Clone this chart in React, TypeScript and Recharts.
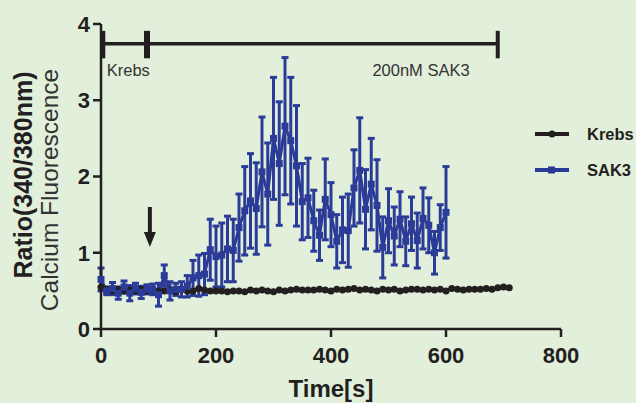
import React from 'react'
import {
  ComposedChart,
  Line,
  ErrorBar,
  XAxis,
  YAxis,
  ReferenceLine,
  ReferenceDot,
} from 'recharts'

const BLACK = '#231f20'
const BLUE = '#2b3c98'
const BG = '#e2efda'
const FONT = '"Liberation Sans", Arial, Helvetica, sans-serif'

// time points (s)
const times = [
  0, 10, 20, 30, 40, 50, 60, 70, 80, 90, 100, 110, 120, 130, 140, 150, 160, 170,
  180, 190, 200, 210, 220, 230, 240, 250, 260, 270, 280, 290, 300, 310, 320, 330,
  340, 350, 360, 370, 380, 390, 400, 410, 420, 430, 440, 450, 460, 470, 480, 490,
  500, 510, 520, 530, 540, 550, 560, 570, 580, 590, 600, 610, 620, 630, 640, 650,
  660, 670, 680, 690, 700, 710,
]

const krebs = [
  0.55, 0.52, 0.5, 0.52, 0.5, 0.51, 0.5, 0.52, 0.5, 0.51, 0.5, 0.5, 0.51, 0.49,
  0.52, 0.5, 0.5, 0.53, 0.51, 0.5, 0.5, 0.5, 0.49, 0.5, 0.5, 0.49, 0.51, 0.5,
  0.51, 0.5, 0.49, 0.51, 0.5, 0.51, 0.52, 0.51, 0.51, 0.51, 0.52, 0.51, 0.5, 0.52,
  0.51, 0.52, 0.53, 0.51, 0.52, 0.51, 0.5, 0.52, 0.51, 0.52, 0.5, 0.51, 0.52,
  0.52, 0.51, 0.52, 0.51, 0.52, 0.5, 0.53, 0.52, 0.51, 0.52, 0.52, 0.52, 0.53,
  0.52, 0.54, 0.55, 0.54,
]

// SAK3 mean and SEM, 0..600 s
const sak3 = [
  0.65, 0.5, 0.53, 0.47, 0.55, 0.47, 0.53, 0.48, 0.52, 0.52, 0.45, 0.7, 0.5, 0.52,
  0.52, 0.56, 0.67, 0.7, 0.72, 1.04, 0.95, 0.97, 1.05, 1.03, 1.33, 1.55, 1.68,
  1.58, 2.06, 1.77, 2.5, 2.17, 2.66, 2.47, 2.14, 1.67, 1.72, 1.42, 1.23, 1.7, 1.5,
  1.15, 1.3, 1.29, 1.85, 2.08, 1.57, 1.9, 1.62, 1.07, 1.42, 1.22, 1.44, 1.15, 1.38,
  1.16, 1.45, 1.36, 1.0, 1.33, 1.53,
]
const sak3Err = [
  0.15, 0.05, 0.08, 0.08, 0.08, 0.1, 0.07, 0.08, 0.06, 0.07, 0.15, 0.14, 0.12,
  0.08, 0.1, 0.14, 0.23, 0.27, 0.27, 0.4, 0.4, 0.42, 0.43, 0.41, 0.44, 0.58, 0.62,
  0.6, 0.72, 0.67, 0.8, 0.81, 0.9, 0.83, 0.79, 0.5, 0.52, 0.4, 0.33, 0.53, 0.42,
  0.35, 0.43, 0.48, 0.5, 0.69, 0.52, 0.6, 0.6, 0.4, 0.42, 0.38, 0.36, 0.32, 0.35,
  0.36, 0.4, 0.36, 0.28, 0.3, 0.6,
]

const xTicks = [0, 200, 400, 600, 800]
const yTicks = [0, 1, 2, 3, 4]

const data = times.map((t, i) => ({
  t,
  krebs: krebs[i],
  sak3: sak3[i],
  sak3Err: sak3Err[i],
}))

const tickStyle = { fill: BLACK, fontSize: 22, fontWeight: 'bold', fontFamily: FONT }

const SquareDot = (p: any) => {
  if (p.cy == null || p.value == null) return <g key={p.index} />
  return <rect key={p.index} x={p.cx - 3.5} y={p.cy - 3.5} width={7} height={7} fill={BLUE} />
}

const YLabel = () => (
  <g fontFamily={FONT} fill={BLACK}>
    <text
      x={23}
      y={175}
      transform="rotate(-90 23 175)"
      textAnchor="middle"
      dominantBaseline="central"
      fontSize={25}
      fontWeight="bold"
    >
      Ratio(340/380nm)
    </text>
    <text
      x={49}
      y={190}
      transform="rotate(-90 49 190)"
      textAnchor="middle"
      dominantBaseline="central"
      fontSize={24.5}
      fill="#333"
    >
      Calcium Fluorescence
    </text>
  </g>
)

const XLabel = () => (
  <text
    x={331}
    y={388}
    textAnchor="middle"
    dominantBaseline="central"
    fontSize={24}
    fontWeight="bold"
    fontFamily={FONT}
    fill={BLACK}
  >
    Time[s]
  </text>
)

const textShape = (label: string) => (p: any) => (
  <text
    x={p.cx}
    y={p.cy}
    dominantBaseline="central"
    fontSize={16.5}
    fontFamily={FONT}
    fill="#333"
  >
    {label}
  </text>
)

const Arrow = (p: any) => (
  <g>
    <line x1={p.cx} y1={p.cy} x2={p.cx} y2={p.cy + 28} stroke={BLACK} strokeWidth={4} />
    <path d={`M${p.cx - 6},${p.cy + 25} L${p.cx + 6},${p.cy + 25} L${p.cx},${p.cy + 40} Z`} fill={BLACK} />
  </g>
)

const LegendItem = ({ label, color, square }: { label: string; color: string; square?: boolean }) => (
  <div style={{ display: 'flex', alignItems: 'center', height: 36 }}>
    <svg width={34} height={12}>
      <line x1={0} y1={6} x2={34} y2={6} stroke={color} strokeWidth={4} />
      {square ? <rect x={13} y={2.5} width={7} height={7} fill={color} /> : <circle cx={17} cy={6} r={3.5} fill={color} />}
    </svg>
    <span style={{ marginLeft: 18, fontFamily: FONT, fontWeight: 'bold', fontSize: 16.5, color: BLACK }}>{label}</span>
  </div>
)

export default function App() {
  return (
    <div style={{ position: 'absolute', left: 0, top: 0, width: 636, height: 403, background: BG }}>
      <ComposedChart width={636} height={403} data={data} margin={{ top: 24, right: 75, bottom: 0, left: 0 }}>
        <XAxis
          dataKey="t"
          type="number"
          domain={[0, 800]}
          ticks={xTicks}
          interval={0}
          height={74}
          tick={tickStyle}
          tickSize={8}
          tickMargin={10}
          axisLine={{ stroke: BLACK, strokeWidth: 2.5 }}
          tickLine={{ stroke: BLACK, strokeWidth: 2.5 }}
          label={<XLabel />}
        />
        <YAxis
          type="number"
          domain={[0, 4]}
          ticks={yTicks}
          interval={0}
          width={101}
          tick={tickStyle}
          tickSize={8}
          tickMargin={3}
          axisLine={{ stroke: BLACK, strokeWidth: 2.5 }}
          tickLine={{ stroke: BLACK, strokeWidth: 2.5 }}
          label={<YLabel />}
        />
        <ReferenceLine segment={[{ x: 4, y: 3.74 }, { x: 690, y: 3.74 }]} stroke={BLACK} strokeWidth={3.5} ifOverflow="visible" />
        <ReferenceLine segment={[{ x: 4, y: 3.55 }, { x: 4, y: 3.91 }]} stroke={BLACK} strokeWidth={4} ifOverflow="visible" />
        <ReferenceLine segment={[{ x: 80, y: 3.55 }, { x: 80, y: 3.91 }]} stroke={BLACK} strokeWidth={6} ifOverflow="visible" />
        <ReferenceLine segment={[{ x: 690, y: 3.55 }, { x: 690, y: 3.91 }]} stroke={BLACK} strokeWidth={4} ifOverflow="visible" />
        <ReferenceDot x={10} y={3.4} r={0} shape={textShape('Krebs')} ifOverflow="visible" />
        <ReferenceDot x={472} y={3.4} r={0} shape={textShape('200nM SAK3')} ifOverflow="visible" />
        <ReferenceDot x={85} y={1.6} r={0} shape={Arrow} ifOverflow="visible" />
        <Line
          dataKey="krebs"
          stroke={BLACK}
          strokeWidth={3.5}
          dot={{ r: 3.5, fill: BLACK, stroke: BLACK, strokeWidth: 0 }}
          isAnimationActive={false}
        />
        <Line
          dataKey="sak3"
          stroke={BLUE}
          strokeWidth={3}
          dot={SquareDot}
          isAnimationActive={false}
        >
          <ErrorBar dataKey="sak3Err" width={3.5} stroke={BLUE} strokeWidth={3} direction="y" />
        </Line>
      </ComposedChart>
      <div style={{ position: 'absolute', left: 535, top: 116 }}>
        <LegendItem label="Krebs" color={BLACK} />
        <LegendItem label="SAK3" color={BLUE} square />
      </div>
    </div>
  )
}
